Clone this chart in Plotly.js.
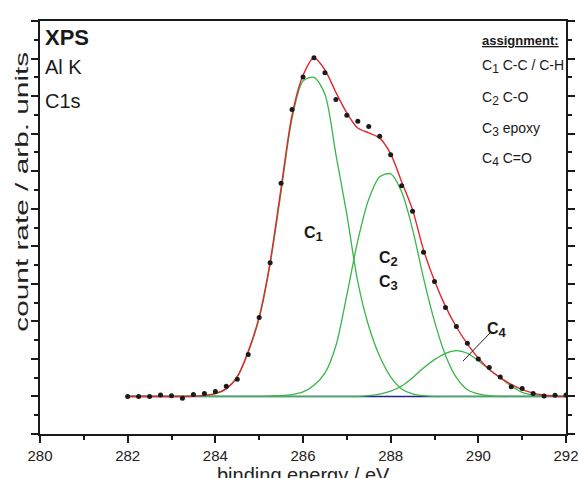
<!DOCTYPE html>
<html>
<head>
<meta charset="utf-8">
<script src="https://cdn.plot.ly/plotly-3.0.1.min.js"></script>
<style>
  html, body { margin: 0; padding: 0; background: #fff; }
  #chart { width: 578px; height: 478px; }
</style>
</head>
<body>
<div id="chart"></div>
<script>
// measured data points (binding energy / eV, counts arb. units)
const energyData = [282, 282.25, 282.5, 282.75, 283, 283.25, 283.5, 283.75, 284, 284.25, 284.5, 284.75,
  285, 285.25, 285.5, 285.75, 286, 286.25, 286.5, 286.75, 287, 287.25, 287.5, 287.75, 288, 288.25,
  288.5, 288.75, 289, 289.25, 289.5, 289.75, 290, 290.25, 290.5, 290.75, 291, 291.25, 291.5, 291.75, 292];
const countsData = [0.0, 0.0, 0.0, 0.04, 0.02, -0.05, 0.05, 0.08, 0.13, 0.27, 0.46, 1.12,
  2.1, 3.56, 5.68, 7.64, 8.51, 9.02, 8.62, 7.91, 7.49, 7.33, 7.19, 6.93, 6.44, 5.61,
  4.93, 3.84, 3.06, 2.37, 1.86, 1.42, 1.0, 0.77, 0.52, 0.26, 0.21, 0.08, 0.01, 0.03, 0.04];

// fitted curves
const energyFit = [282, 282.5, 283, 283.5, 283.75, 284, 284.25, 284.5, 284.75, 285, 285.25, 285.5, 285.75,
  286, 286.25, 286.5, 286.75, 287, 287.25, 287.5, 287.75, 288, 288.25, 288.5, 288.75, 289, 289.25,
  289.5, 289.75, 290, 290.25, 290.5, 290.75, 291, 291.25, 291.5, 291.75, 292];
const envelope = [0, 0, 0, 0.01, 0.03, 0.08, 0.21, 0.53, 1.2, 2.12, 3.58, 5.55, 7.5,
  8.55, 9.02, 8.7, 8.1, 7.55, 7.15, 7.02, 6.88, 6.46, 5.72, 4.97, 3.9, 3.08, 2.4,
  1.85, 1.4, 1.02, 0.72, 0.5, 0.32, 0.18, 0.09, 0.04, 0.01, 0];
const peakC1 = [0, 0, 0, 0, 0.02, 0.07, 0.2, 0.52, 1.18, 2.08, 3.52, 5.45, 7.4,
  8.4, 8.5, 8.05, 6.45, 4.85, 3.05, 1.87, 1.07, 0.52, 0.2, 0.07, 0.02, 0, 0,
  0, 0, 0, 0, 0, 0, 0, 0, 0, 0, 0];
const peakC23 = [0, 0, 0, 0, 0, 0, 0, 0, 0, 0, 0.01, 0.02, 0.05,
  0.12, 0.3, 0.62, 1.35, 2.7, 4.15, 5.25, 5.85, 5.93, 5.45, 4.45, 3.15, 2.0, 1.1,
  0.5, 0.18, 0.07, 0.02, 0, 0, 0, 0, 0, 0, 0];
const peakC4 = [0, 0, 0, 0, 0, 0, 0, 0, 0, 0, 0, 0, 0,
  0, 0, 0, 0, 0, 0, 0.02, 0.06, 0.14, 0.28, 0.5, 0.76, 0.98, 1.15,
  1.22, 1.15, 0.95, 0.72, 0.5, 0.28, 0.11, 0.04, 0.01, 0, 0];
const backgroundE = [282, 292];
const backgroundY = [0, 0];

const xTicks = [280, 282, 284, 286, 288, 290, 292];

const RED = '#e3262b', GREEN = '#3ab54a', BLUE = '#23238f', INK = '#1a1a1a';
const FONT = 'Liberation Sans, Arial, sans-serif';

const traces = [
  {x: backgroundE, y: backgroundY, mode: 'lines', line: {color: BLUE, width: 1.6}, hoverinfo: 'skip'},
  {x: energyFit, y: peakC1, mode: 'lines', line: {color: GREEN, width: 1.3, shape: 'spline', smoothing: 0.8}},
  {x: energyFit, y: peakC23, mode: 'lines', line: {color: GREEN, width: 1.3, shape: 'spline', smoothing: 0.8}},
  {x: energyFit, y: peakC4, mode: 'lines', line: {color: GREEN, width: 1.3, shape: 'spline', smoothing: 0.8}},
  {x: energyFit, y: envelope, mode: 'lines', line: {color: RED, width: 1.4, shape: 'spline', smoothing: 0.8}},
  {x: energyData, y: countsData, mode: 'markers', marker: {color: INK, size: 5}}
];

// plot area: x 40..566 px, y 21..434 px
const px = v => (v - 40) / 526;
const py = v => (434 - v) / 413;

function ann(text, x, y, size, opts) {
  return Object.assign({text: text, x: px(x), y: py(y), xref: 'paper', yref: 'paper',
    showarrow: false, font: {family: FONT, size: size, color: '#1a1a1a'},
    xanchor: 'left', yanchor: 'middle'}, opts || {});
}
const sub = (n, s) => '<sub><span style="font-size:' + s + 'px">' + n + '</span></sub>';

const annotations = [
  ann('<b>XPS</b>', 43, 38, 22),
  ann('Al K', 43, 67, 20),
  ann('C1s', 43, 101, 20),
  ann('<b><u>assignment:</u></b>', 480, 41, 13),
  ann('C' + sub(1, 12) + ' C-C / C-H', 480, 66, 14),
  ann('C' + sub(2, 12) + ' C-O', 480, 99, 14),
  ann('C' + sub(3, 12) + ' epoxy', 480, 129, 14),
  ann('C' + sub(4, 12) + ' C=O', 480, 159, 14),
  ann('<b>C' + sub(1, 13) + '</b>', 313, 234, 16, {xanchor: 'center'}),
  ann('<b>C' + sub(2, 13) + '</b>', 388, 259, 16, {xanchor: 'center'}),
  ann('<b>C' + sub(3, 13) + '</b>', 388, 283, 16, {xanchor: 'center'}),
  ann('<b>C' + sub(4, 13) + '</b>', 497, 330, 16, {xanchor: 'center'}),
  ann('count rate / arb. units', 21, 192, 19, {xanchor: 'center', textangle: -90, font: {family: FONT, size: 19, color: '#222'}}),
  ann('binding energy / eV', 303, 462, 20, {xanchor: 'center', yanchor: 'top', font: {family: FONT, size: 20, color: '#222'}})
];

const layout = {
  width: 578, height: 478,
  margin: {l: 40, r: 12, t: 21, b: 44},
  paper_bgcolor: '#fff', plot_bgcolor: '#fff',
  showlegend: false,
  font: {family: FONT, color: '#222'},
  xaxis: {
    range: [280, 292], tickvals: xTicks, ticktext: xTicks.map(String),
    showgrid: false, zeroline: false,
    showline: true, linecolor: INK, linewidth: 2, mirror: true,
    ticks: 'outside', ticklen: 7, tickwidth: 2, tickcolor: INK,
    ticklabeloverflow: 'allow',
    tickfont: {family: FONT, size: 15, color: '#222'},
    minor: {dtick: 1, ticks: 'outside', ticklen: 4, tickwidth: 2, tickcolor: INK, showgrid: false}
  },
  yaxis: {
    range: [-1, 10], dtick: 1, tick0: 0, showticklabels: false,
    showgrid: false, zeroline: false,
    showline: true, linecolor: INK, linewidth: 2, mirror: 'ticks',
    ticks: 'outside', ticklen: 7, tickwidth: 2, tickcolor: INK,
    minor: {dtick: 0.5, ticks: 'outside', ticklen: 4, tickwidth: 2, tickcolor: INK, showgrid: false}
  },
  annotations: annotations,
  shapes: [
    {type: 'line', xref: 'paper', yref: 'paper', x0: px(463), y0: py(361), x1: px(490), y1: py(333),
     line: {color: '#222', width: 1}}
  ]
};

Plotly.newPlot('chart', traces, layout, {staticPlot: true, displayModeBar: false}).then(function () {
  document.querySelectorAll('text.annotation-text').forEach(function (t) {
    if (t.textContent === 'count rate / arb. units') {
      t.setAttribute('textLength', '280');
      t.setAttribute('lengthAdjust', 'spacingAndGlyphs');
    }
  });
});
</script>
</body>
</html>
